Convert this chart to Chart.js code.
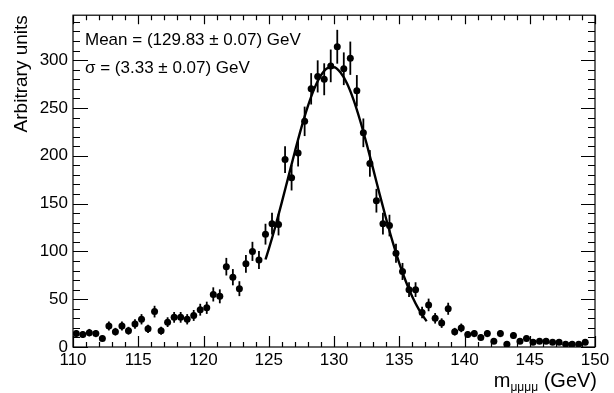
<!DOCTYPE html>
<html>
<head>
<meta charset="utf-8">
<script src="https://cdn.jsdelivr.net/npm/chart.js@4"></script>
<style>
  html, body { margin: 0; padding: 0; background: #fff; }
  #wrap { width: 614px; height: 393px; }
</style>
</head>
<body>
<div id="wrap"><canvas id="c" width="614" height="393"></canvas></div>
<script>
// histogram: 0.5 GeV bins from 110 to 150
const binLow = 110;
const binWidth = 0.5;

const counts = [
  14, 13, 15, 14, 9, 22, 16, 22, 17, 24,
  29, 19, 37, 17, 26, 31, 31, 29, 33, 39,
  41, 55, 53, 84, 73, 61, 87, 100, 91, 118,
  129, 128, 196, 177, 203, 236, 270, 283, 280, 294,
  314, 291, 302, 268, 224, 192, 153, 129, 127, 98,
  79, 60, 60, 36, 44, 30, 25, 40, 16, 20,
  13, 14, 10, 14, 6, 14, 3, 12, 6, 9,
  5, 6, 6, 5, 5, 3, 3, 3, 5, null
];

const errors = [
  3.7, 3.6, 3.9, 3.7, 3.0, 4.7, 4.0, 4.7, 4.1, 4.9,
  5.4, 4.4, 6.1, 4.1, 5.1, 5.6, 5.6, 5.4, 5.7, 6.2,
  6.4, 7.4, 7.3, 9.2, 8.5, 7.8, 9.3, 10.0, 9.5, 10.9,
  11.4, 11.3, 14.0, 13.3, 14.2, 15.4, 16.4, 16.8, 16.7, 17.1,
  17.7, 17.1, 17.4, 16.4, 15.0, 13.9, 12.4, 11.4, 11.3, 9.9,
  8.9, 7.7, 7.7, 6.0, 6.6, 5.5, 5.0, 6.3, 4.0, 4.5,
  3.6, 3.7, 3.2, 3.7, 2.4, 3.7, 1.7, 3.5, 2.4, 3.0,
  2.2, 2.4, 2.4, 2.2, 2.2, 1.7, 1.7, 1.7, 2.2, null
];

// gaussian fit curve
const fitX = [124.75, 125, 125.5, 126, 126.5, 127, 127.5, 128, 128.5, 129, 129.5, 130,
              130.5, 131, 131.5, 132, 132.5, 133, 133.5, 134, 134.5, 135, 135.5, 136,
              136.5, 137, 137.1];
const fitY = [91.5, 102.3, 125.8, 151.2, 177.7, 204.2, 229.4, 251.9, 270.5, 284.0, 291.6, 292.6,
              287.1, 275.5, 258.4, 236.9, 212.5, 186.3, 159.6, 133.8, 109.6, 87.8, 68.8, 52.6,
              39.4, 28.9, 27.0];

const xTicks = [110, 115, 120, 125, 130, 135, 140, 145, 150];
const yTicks = [0, 50, 100, 150, 200, 250, 300];

const fitText = ['Mean = (129.83 \u00B1 0.07) GeV', '\u03C3 = (3.33 \u00B1 0.07) GeV'];

const FONT = "'Liberation Sans', Arial, sans-serif";

const points = counts.map((v, i) => ({ x: binLow + binWidth * (i + 0.5), y: v, e: errors[i] }));
const fitPts = fitX.map((x, i) => ({ x: x, y: fitY[i] }));

// vertical error bars
const errorBars = {
  id: 'errorBars',
  beforeDatasetsDraw(chart) {
    const { ctx, scales: { x, y } } = chart;
    ctx.save();
    ctx.strokeStyle = '#000';
    ctx.lineWidth = 1.8;
    points.forEach(p => {
      if (p.y == null) return;
      const px = x.getPixelForValue(p.x);
      ctx.beginPath();
      ctx.moveTo(px, y.getPixelForValue(p.y - p.e));
      ctx.lineTo(px, y.getPixelForValue(p.y + p.e));
      ctx.stroke();
    });
    ctx.restore();
  }
};

// ROOT style frame with inner ticks, stats text and x title
const frame = {
  id: 'frame',
  afterDraw(chart) {
    const { ctx, chartArea: a, scales: { x, y } } = chart;
    ctx.save();
    ctx.strokeStyle = '#000';
    ctx.lineWidth = 1.2;
    ctx.strokeRect(a.left, a.top, a.right - a.left, a.bottom - a.top);

    ctx.beginPath();
    for (let v = 110; v <= 150; v++) {
      const px = Math.round(x.getPixelForValue(v)) + 0.5;
      const big = v % 5 === 0;
      ctx.moveTo(px, a.bottom); ctx.lineTo(px, a.bottom - (big ? 11 : 5));
      ctx.moveTo(px, a.top); ctx.lineTo(px, a.top + (big ? 9 : 5));
    }
    for (let v = 0; v <= 340; v += 10) {
      const py = Math.round(y.getPixelForValue(v)) + 0.5;
      const big = v % 50 === 0;
      ctx.moveTo(a.left, py); ctx.lineTo(a.left + (big ? 15 : 7), py);
      ctx.moveTo(a.right, py); ctx.lineTo(a.right - (big ? 14 : 7), py);
    }
    ctx.stroke();

    ctx.fillStyle = '#000';
    ctx.textBaseline = 'alphabetic';
    ctx.textAlign = 'left';
    ctx.font = '17px ' + FONT;
    ctx.fillText(fitText[0], 85, 45);
    ctx.fillText(fitText[1], 85, 73);

    // x title: m with subscript, right aligned to the frame
    const big = '20px ' + FONT, small = '12px ' + FONT;
    ctx.font = big; const wM = ctx.measureText('m').width;
    const wG = ctx.measureText(' (GeV)').width;
    ctx.font = small; const wS = ctx.measureText('\u03BC\u03BC\u03BC\u03BC').width;
    let tx = a.right + 2 - (wM + wS + wG);
    const base = 387;
    ctx.font = big; ctx.fillText('m', tx, base); tx += wM;
    ctx.font = small; ctx.fillText('\u03BC\u03BC\u03BC\u03BC', tx, base + 4); tx += wS;
    ctx.font = big; ctx.fillText(' (GeV)', tx, base);
    ctx.restore();
  }
};

new Chart(document.getElementById('c'), {
  data: {
    datasets: [
      {
        type: 'scatter',
        data: points,
        pointRadius: 3.5,
        pointBackgroundColor: '#000',
        pointBorderWidth: 0,
        order: 1
      },
      {
        type: 'line',
        data: fitPts,
        borderColor: '#000',
        borderWidth: 2.4,
        pointRadius: 0,
        fill: false,
        cubicInterpolationMode: 'monotone',
        order: 2
      }
    ]
  },
  options: {
    responsive: false,
    animation: false,
    events: [],
    layout: { padding: { left: 0, right: 19, top: 11, bottom: 0 } },
    plugins: { legend: { display: false }, tooltip: { enabled: false } },
    scales: {
      x: {
        type: 'linear',
        min: 110,
        max: 150,
        afterBuildTicks: s => { s.ticks = xTicks.map(v => ({ value: v })); },
        afterFit: s => { s.height = 46; },
        grid: { display: false, drawTicks: false },
        border: { display: false },
        ticks: { color: '#000', font: { family: FONT, size: 17 }, padding: 3, maxRotation: 0 }
      },
      y: {
        min: 0,
        max: 347,
        afterBuildTicks: s => { s.ticks = yTicks.map(v => ({ value: v })); },
        afterFit: s => { s.width = 73; },
        grid: { display: false, drawTicks: false },
        border: { display: false },
        ticks: { color: '#000', font: { family: FONT, size: 17 }, padding: 5 },
        title: {
          display: true,
          text: 'Arbitrary units',
          align: 'end',
          color: '#000',
          font: { family: FONT, size: 19 },
          padding: { top: 10, bottom: 0 }
        }
      }
    }
  },
  plugins: [errorBars, frame]
});
</script>
</body>
</html>
